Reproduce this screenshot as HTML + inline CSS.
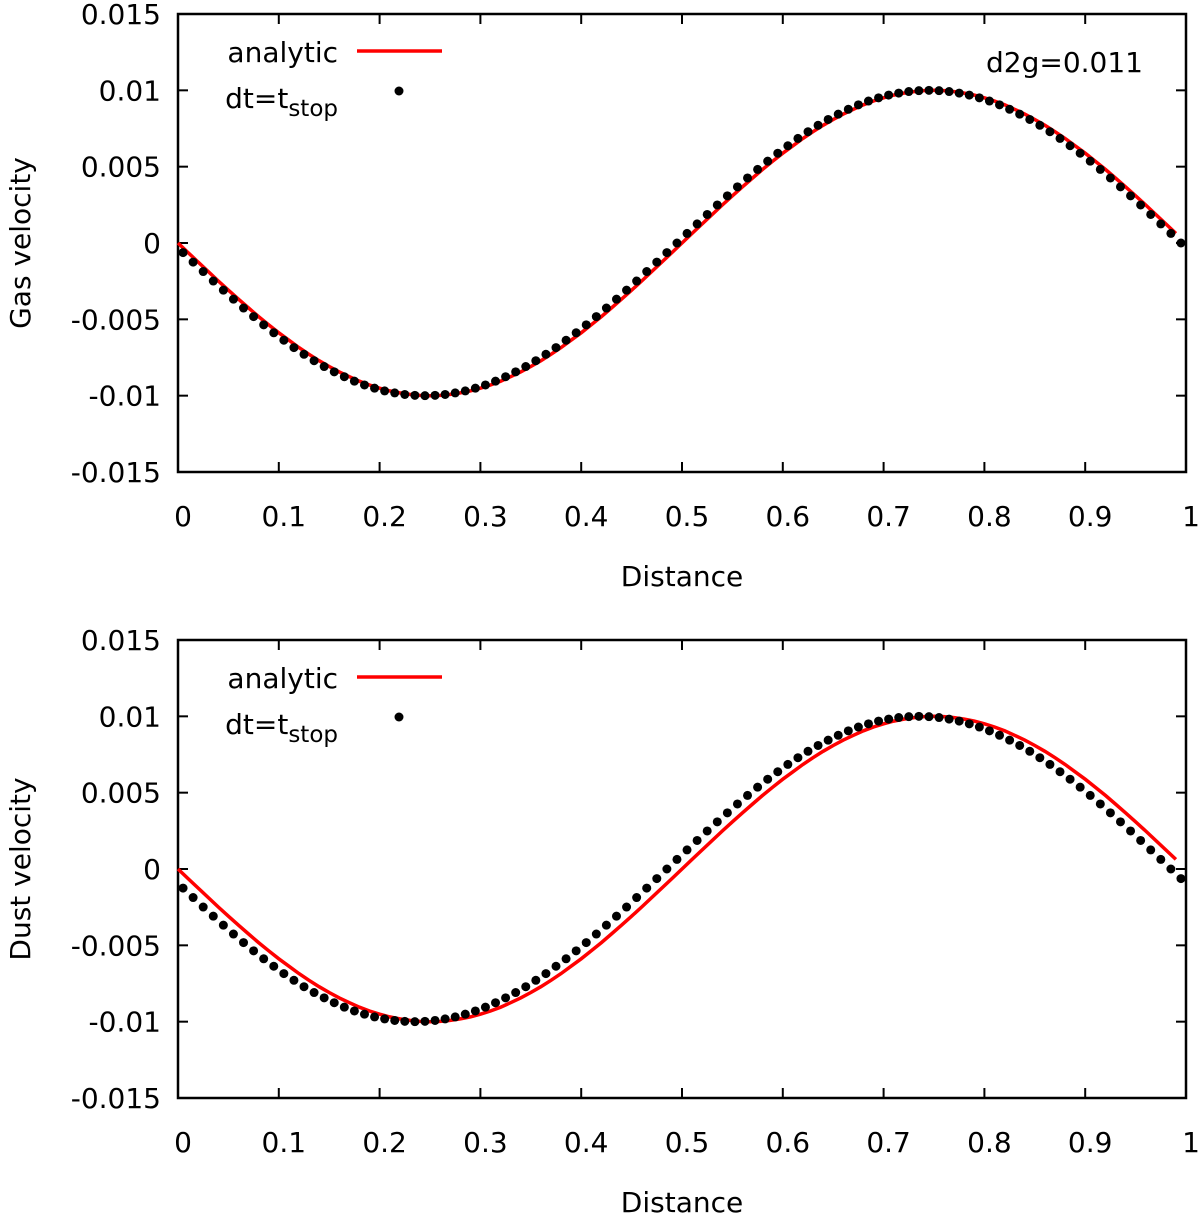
<!DOCTYPE html>
<html><head><meta charset="utf-8"><style>
html,body{margin:0;padding:0;background:#fff}
svg text{font-family:"DejaVu Sans","Liberation Sans",sans-serif;font-size:28px;fill:#000}
</style></head><body>
<svg id="fig" width="1200" height="1215" xmlns="http://www.w3.org/2000/svg"></svg>
<script>
const yTicks = [-0.015,-0.01,-0.005,0,0.005,0.01,0.015];
const yTickLabels = ["-0.015","-0.01","-0.005","0","0.005","0.01","0.015"];
const xTicks = [0,0.1,0.2,0.3,0.4,0.5,0.6,0.7,0.8,0.9,1];
const xTickLabels = ["0","0.1","0.2","0.3","0.4","0.5","0.6","0.7","0.8","0.9","1"];
const analyticGas = [0,-0.00063,-0.00125,-0.00187,-0.00249,-0.00309,-0.00368,-0.00426,-0.00482,-0.00536,-0.00588,-0.00637,-0.00685,-0.00729,-0.00771,-0.00809,-0.00844,-0.00876,-0.00905,-0.0093,-0.00951,-0.00969,-0.00982,-0.00992,-0.00998,-0.01,
-0.00998,-0.00992,-0.00982,-0.00969,-0.00951,-0.0093,-0.00905,-0.00876,-0.00844,-0.00809,-0.00771,-0.00729,-0.00685,-0.00637,-0.00588,-0.00536,-0.00482,-0.00426,-0.00368,-0.00309,-0.00249,-0.00187,-0.00125,-0.00063,0,
0.00063,0.00125,0.00187,0.00249,0.00309,0.00368,0.00426,0.00482,0.00536,0.00588,0.00637,0.00685,0.00729,0.00771,0.00809,0.00844,0.00876,0.00905,0.0093,0.00951,0.00969,0.00982,0.00992,0.00998,0.01,
0.00998,0.00992,0.00982,0.00969,0.00951,0.0093,0.00905,0.00876,0.00844,0.00809,0.00771,0.00729,0.00685,0.00637,0.00588,0.00536,0.00482,0.00426,0.00368,0.00309,0.00249,0.00187,0.00125,0.00063];
const analyticDust = [0,-0.00063,-0.00125,-0.00187,-0.00249,-0.00309,-0.00368,-0.00426,-0.00482,-0.00536,-0.00588,-0.00637,-0.00685,-0.00729,-0.00771,-0.00809,-0.00844,-0.00876,-0.00905,-0.0093,-0.00951,-0.00969,-0.00982,-0.00992,-0.00998,-0.01,
-0.00998,-0.00992,-0.00982,-0.00969,-0.00951,-0.0093,-0.00905,-0.00876,-0.00844,-0.00809,-0.00771,-0.00729,-0.00685,-0.00637,-0.00588,-0.00536,-0.00482,-0.00426,-0.00368,-0.00309,-0.00249,-0.00187,-0.00125,-0.00063,0,
0.00063,0.00125,0.00187,0.00249,0.00309,0.00368,0.00426,0.00482,0.00536,0.00588,0.00637,0.00685,0.00729,0.00771,0.00809,0.00844,0.00876,0.00905,0.0093,0.00951,0.00969,0.00982,0.00992,0.00998,0.01,
0.00998,0.00992,0.00982,0.00969,0.00951,0.0093,0.00905,0.00876,0.00844,0.00809,0.00771,0.00729,0.00685,0.00637,0.00588,0.00536,0.00482,0.00426,0.00368,0.00309,0.00249,0.00187,0.00125,0.00063];
const gasDots = [-0.00063,-0.00125,-0.00187,-0.00249,-0.00309,-0.00368,-0.00426,-0.00482,-0.00536,-0.00588,-0.00637,-0.00685,-0.00729,-0.00771,-0.00809,-0.00844,-0.00876,-0.00905,-0.0093,-0.00951,-0.00969,-0.00982,-0.00992,-0.00998,-0.01,
-0.00998,-0.00992,-0.00982,-0.00969,-0.00951,-0.0093,-0.00905,-0.00876,-0.00844,-0.00809,-0.00771,-0.00729,-0.00685,-0.00637,-0.00588,-0.00536,-0.00482,-0.00426,-0.00368,-0.00309,-0.00249,-0.00187,-0.00125,-0.00063,0,
0.00063,0.00125,0.00187,0.00249,0.00309,0.00368,0.00426,0.00482,0.00536,0.00588,0.00637,0.00685,0.00729,0.00771,0.00809,0.00844,0.00876,0.00905,0.0093,0.00951,0.00969,0.00982,0.00992,0.00998,0.01,
0.00998,0.00992,0.00982,0.00969,0.00951,0.0093,0.00905,0.00876,0.00844,0.00809,0.00771,0.00729,0.00685,0.00637,0.00588,0.00536,0.00482,0.00426,0.00368,0.00309,0.00249,0.00187,0.00125,0.00063,0];
const dustDots = [-0.00125,-0.00187,-0.00249,-0.00309,-0.00368,-0.00426,-0.00482,-0.00536,-0.00588,-0.00637,-0.00685,-0.00729,-0.00771,-0.00809,-0.00844,-0.00876,-0.00905,-0.0093,-0.00951,-0.00969,-0.00982,-0.00992,-0.00998,-0.01,
-0.00998,-0.00992,-0.00982,-0.00969,-0.00951,-0.0093,-0.00905,-0.00876,-0.00844,-0.00809,-0.00771,-0.00729,-0.00685,-0.00637,-0.00588,-0.00536,-0.00482,-0.00426,-0.00368,-0.00309,-0.00249,-0.00187,-0.00125,-0.00063,0,
0.00063,0.00125,0.00187,0.00249,0.00309,0.00368,0.00426,0.00482,0.00536,0.00588,0.00637,0.00685,0.00729,0.00771,0.00809,0.00844,0.00876,0.00905,0.0093,0.00951,0.00969,0.00982,0.00992,0.00998,0.01,
0.00998,0.00992,0.00982,0.00969,0.00951,0.0093,0.00905,0.00876,0.00844,0.00809,0.00771,0.00729,0.00685,0.00637,0.00588,0.00536,0.00482,0.00426,0.00368,0.00309,0.00249,0.00187,0.00125,0.00063,0,
-0.00063];

const NS='http://www.w3.org/2000/svg';
const svg=document.getElementById('fig');
function mk(tag,attrs,parent){const e=document.createElementNS(NS,tag);for(const k in attrs)e.setAttribute(k,attrs[k]);(parent||svg).appendChild(e);return e;}

function panel(top, ytitle, lineData, dotData, showD2g, prefix){
  const L=178,R=1186,T=top,B=top+458;
  const g=mk('g',{});
  
  
  const xs=v=>L+(R-L)*v;
  const ys=v=>B-(B-T)*(v+0.015)/0.03;
  yTicks.forEach((v,i)=>{
    const y=ys(v);
    mk('line',{x1:L,x2:L+10,y1:y,y2:y,stroke:'#000','stroke-width':2},g);
    mk('line',{x1:R-10,x2:R,y1:y,y2:y,stroke:'#000','stroke-width':2},g);
    const t=mk('text',{x:161,y:y+10,'text-anchor':'end'},g);
    t.textContent=yTickLabels[i];
    
    
  });
  xTicks.forEach((v,i)=>{
    const x=xs(v);
    mk('line',{x1:x,x2:x,y1:B,y2:B-10,stroke:'#000','stroke-width':2},g);
    mk('line',{x1:x,x2:x,y1:T,y2:T+10,stroke:'#000','stroke-width':2},g);
    const t=mk('text',{x:x+5,y:B+54,'text-anchor':'middle'},g);
    t.textContent=xTickLabels[i];
    
    
  });
  const fr=mk('rect',{x:L,y:T,width:R-L,height:B-T,fill:'none',stroke:'#000','stroke-width':2.5},g);
  
  
  const xt=mk('text',{x:682,y:B+114,'text-anchor':'middle','font-size':29},g);
  xt.textContent='Distance';
  
  
  const yt=mk('text',{x:0,y:0,'text-anchor':'middle','font-size':29,transform:`translate(30,${(T+B)/2}) rotate(-90)`},g);
  yt.textContent=ytitle;
  
  
  const pts=lineData.map((v,i)=>xs(i*0.01).toFixed(1)+','+ys(v).toFixed(1)).join(' ');
  const pl=mk('polyline',{points:pts,fill:'none',stroke:'#f00','stroke-width':3.5},g);
  
  
  dotData.forEach((v,i)=>{
    const c=mk('circle',{cx:xs(0.005+i*0.01),cy:ys(v),r:4.5,fill:'#000'},g);
    
    
  });
  const l1=mk('text',{x:338,y:T+48,'text-anchor':'end'},g);
  l1.textContent='analytic';
  
  
  const ll=mk('line',{x1:357,x2:442,y1:T+37,y2:T+37,stroke:'#f00','stroke-width':3.5},g);
  
  
  const l2=mk('text',{x:338,y:T+94,'text-anchor':'end'},g);
  l2.innerHTML='dt=t<tspan dy="8" font-size="23">stop</tspan>';
  
  
  const ld=mk('circle',{cx:399,cy:T+77,r:4.5,fill:'#000'},g);
  
  
  if(showD2g){
    const d=mk('text',{x:1143,y:T+58,'text-anchor':'end'},g);
    d.textContent='d2g=0.011';
    
    
  }
}
panel(14,'Gas velocity',analyticGas,gasDots,true,'gas');
panel(640,'Dust velocity',analyticDust,dustDots,false,'dust');
</script>
</body></html>
